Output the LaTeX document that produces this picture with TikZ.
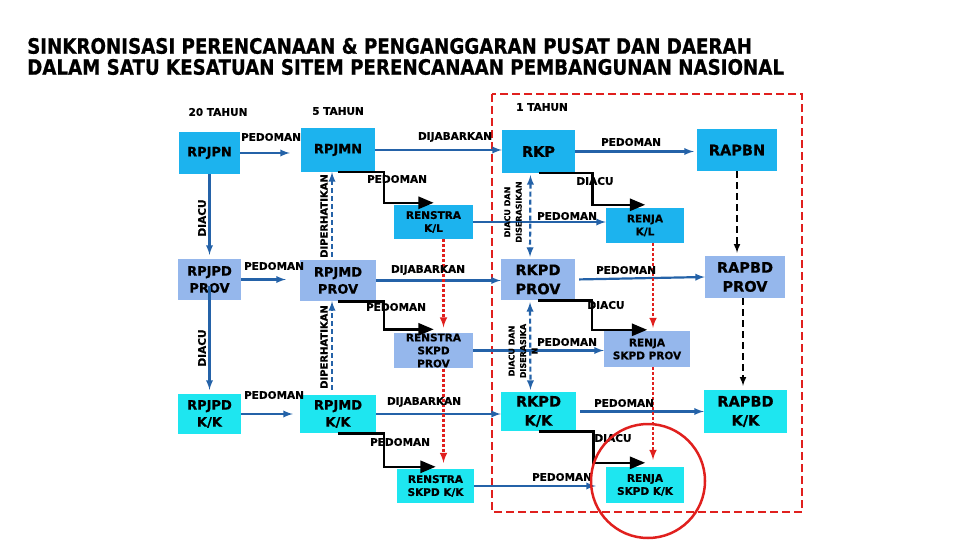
\documentclass[tikz,border=0pt]{standalone}
\usepackage{fontspec}
\setmainfont{DejaVu Sans}[BoldFeatures={FakeBold=0.6}]
\newfontfamily\titlefont[FakeStretch=0.86,BoldFeatures={FakeBold=0.6}]{DejaVu Sans}
\usetikzlibrary{arrows,positioning}
\definecolor{nasblue}{HTML}{1CB3EE}
\definecolor{provblue}{HTML}{95B7EC}
\definecolor{kkcyan}{HTML}{1EE6F0}
\definecolor{arrblue}{HTML}{2462A8}
\definecolor{redline}{HTML}{E0201E}
\tikzset{font=\bfseries}
\tikzset{box/.style={rectangle,inner sep=1pt,align=center,text=black}}
\tikzset{nas/.style={box,fill=nasblue}}
\tikzset{prov/.style={box,fill=provblue}}
\tikzset{kk/.style={box,fill=kkcyan}}
\tikzset{bigtxt/.style={font=\bfseries\fontsize{13}{17}\selectfont}}
\tikzset{hugetxt/.style={font=\bfseries\fontsize{14.5}{19}\selectfont}}
\tikzset{smalltxt/.style={font=\bfseries\fontsize{10.5}{13}\selectfont}}
\tikzset{lbl/.style={font=\bfseries\fontsize{10.5}{12}\selectfont,inner sep=0pt}}
\tikzset{tinylbl/.style={font=\bfseries\fontsize{8}{11.5}\selectfont,inner sep=0pt,align=center}}
\tikzset{flow/.style={arrblue,line width=2.2pt,-latex}}
\tikzset{flowdash/.style={flow,dash pattern=on 5pt off 3pt}}
\tikzset{elbow/.style={black,line width=2.6pt,-triangle 45}}
\tikzset{reddot/.style={redline,line width=2.4pt,dash pattern=on 3pt off 2pt,-latex}}
\tikzset{blackdash/.style={black,line width=2pt,dash pattern=on 7pt off 4pt,-latex}}

\begin{document}
\begin{tikzpicture}[x=1pt,y=-1pt]
\useasboundingbox (0,0) rectangle (960,540);
% title
\node[anchor=west,inner sep=0pt,font=\titlefont\bfseries\fontsize{21.2}{24}\selectfont] (title1) at (27,46)
 {SINKRONISASI PERENCANAAN \& PENGANGGARAN PUSAT DAN DAERAH};
\node[anchor=west,inner sep=0pt,font=\titlefont\bfseries\fontsize{21.2}{24}\selectfont] (title2) at (27,67)
 {DALAM SATU KESATUAN SITEM PERENCANAAN PEMBANGUNAN NASIONAL};
% periods
\node[lbl] (th20) at (218,112) {20 TAHUN};
\node[lbl] (th5) at (338,111) {5 TAHUN};
\node[lbl] (th1) at (542,107) {1 TAHUN};
% red frame
\draw[redline,line width=2.6pt,dash pattern=on 8pt off 4pt] (492,94) rectangle (802,512);
% national level
\node[nas,bigtxt,minimum width=61,minimum height=42] (rpjpn) at (209.5,153) {RPJPN};
\node[nas,bigtxt,minimum width=74,minimum height=44] (rpjmn) at (338,150) {RPJMN};
\node[nas,hugetxt,minimum width=73,minimum height=43] (rkp) at (538.5,151.5) {RKP};
\node[nas,hugetxt,minimum width=80,minimum height=42] (rapbn) at (737,150) {RAPBN};
\node[nas,smalltxt,minimum width=79,minimum height=34] (renstrakl) at (433.5,222) {RENSTRA\\K/L};
\node[nas,smalltxt,minimum width=78,minimum height=35] (renjakl) at (645,225.5) {RENJA\\K/L};
% province level
\node[prov,bigtxt,minimum width=63,minimum height=41] (rpjpdprov) at (209.5,279.5) {RPJPD\\PROV};
\node[prov,bigtxt,minimum width=76,minimum height=41] (rpjmdprov) at (338,280.5) {RPJMD\\PROV};
\node[prov,hugetxt,minimum width=74,minimum height=41] (rkpdprov) at (538,279.5) {RKPD\\PROV};
\node[prov,hugetxt,minimum width=80,minimum height=42] (rapbdprov) at (745,277) {RAPBD\\PROV};
\node[prov,smalltxt,minimum width=79,minimum height=35] (renstraprov) at (433.5,350.5) {RENSTRA\\SKPD\\PROV};
\node[prov,smalltxt,minimum width=86,minimum height=36] (renjaprov) at (647,349) {RENJA\\SKPD PROV};
% regency / city level
\node[kk,bigtxt,minimum width=63,minimum height=40] (rpjpdkk) at (209.5,414) {RPJPD\\K/K};
\node[kk,bigtxt,minimum width=76,minimum height=38] (rpjmdkk) at (338,414) {RPJMD\\K/K};
\node[kk,hugetxt,minimum width=75,minimum height=39] (rkpdkk) at (538.5,411.5) {RKPD\\K/K};
\node[kk,hugetxt,minimum width=83,minimum height=43] (rapbdkk) at (745.5,411.5) {RAPBD\\K/K};
\node[kk,smalltxt,minimum width=77,minimum height=34] (renstrakk) at (435.5,486) {RENSTRA\\SKPD K/K};
\node[kk,smalltxt,minimum width=78,minimum height=36] (renjakk) at (645,485) {RENJA\\SKPD K/K};
% blue flows
\draw[flow,shorten >=11pt] (rpjpn.east) -- (rpjpn.east -| rpjmn.west);
\draw[flow,shorten >=14pt] (rpjpdprov.east) -- (rpjpdprov.east -| rpjmdprov.west);
\draw[flow,shorten >=7pt] (rpjpdkk.east) -- (rpjpdkk.east -| rpjmdkk.west);
\draw[flow,shorten >=4pt] (rpjpn.south) -- (rpjpdprov.north);
\draw[flow,shorten <=6pt,shorten >=4pt] (rpjpdprov.center) -- (rpjpdkk.north);
\draw[flow] (rpjmn.east) -- (rpjmn.east -| rkp.west);
\draw[flow] (rpjmdprov.east) -- (rpjmdprov.east -| rkpdprov.west);
\draw[flow] (rpjmdkk.east) -- (rpjmdkk.east -| rkpdkk.west);
\draw[flow,shorten >=3pt] (rkp.east) -- (rkp.east -| rapbn.west);
\draw[flow] (renstrakl.east) -- (renstrakl.east -| renjakl.west);
\draw[flow,shorten <=4pt] (rkpdprov.east) -- (rapbdprov.west);
\draw[flow] (renstraprov.east) -- (renstraprov.east -| renjaprov.west);
\draw[flow,shorten <=4pt] (rkpdkk.east) -- (rapbdkk.west);
\draw[flow,shorten >=10pt] (renstrakk.east) -- (renstrakk.east -| renjakk.west);
\draw[flowdash,shorten <=3pt] ([xshift=-6pt]rpjmdprov.north) -- ([xshift=-6pt]rpjmn.south);
\draw[flowdash,shorten <=5pt] ([xshift=-6pt]rpjmdkk.north) -- ([xshift=-6pt]rpjmdprov.south);
\draw[flowdash,latex-latex,shorten <=2pt,shorten >=2pt] ([xshift=-8pt]rkp.south) -- ([xshift=-8pt]rkpdprov.north);
\draw[flowdash,latex-latex,shorten <=2pt,shorten >=2pt] ([xshift=-8pt]rkpdprov.south) -- ([xshift=-8pt]rkpdkk.north);
% black elbows
\draw[elbow] (rpjmn.south) -- ++(46,0) |- ([yshift=2pt]renstrakl.north);
\draw[elbow] (rpjmdprov.south) -- ++(46,0) |- ([yshift=3pt]renstraprov.north);
\draw[elbow] (rpjmdkk.south) -- ++(46,0) |- ([yshift=2pt]renstrakk.north);
\draw[elbow] (rkp.south) -- ++(54,0) |- ([yshift=3pt]renjakl.north);
\draw[elbow] (rkpdprov.south) -- ++(54,0) |- ([yshift=1pt]renjaprov.north);
\draw[elbow] (rkpdkk.south) -- ++(55,0) |- ([yshift=4pt]renjakk.north);
% red and black dashed links
\draw[reddot,shorten >=5pt] ([xshift=10pt]renstrakl.south) -- ([xshift=10pt]renstrakl.south |- renstraprov.north);
\draw[reddot,shorten >=6pt] ([xshift=10pt]renstraprov.south) -- ([xshift=10pt]renstraprov.south |- renstrakk.north);
\draw[reddot,shorten >=3pt] ([xshift=8pt]renjakl.south) -- ([xshift=8pt]renjakl.south |- renjaprov.north);
\draw[reddot,shorten >=7pt] ([xshift=6pt]renjaprov.south) -- ([xshift=6pt]renjaprov.south |- renjakk.north);
\draw[blackdash,shorten >=3pt] (rapbn.south) -- (rapbn.south |- rapbdprov.north);
\draw[blackdash,shorten >=4pt] ([xshift=-2pt]rapbdprov.south) -- ([xshift=-2pt]rapbdprov.south |- rapbdkk.north);
% labels
\node[lbl] (ped1) at (271,137) {PEDOMAN};
\node[lbl] (ped2) at (274,266) {PEDOMAN};
\node[lbl] (ped3) at (274,395) {PEDOMAN};
\node[lbl,rotate=90] (diacu1) at (202,218) {DIACU};
\node[lbl,rotate=90] (diacu2) at (202,348) {DIACU};
\node[lbl,rotate=90,font=\bfseries\fontsize{10}{12}\selectfont] (diper1) at (324,216) {DIPERHATIKAN};
\node[lbl,rotate=90,font=\bfseries\fontsize{10}{12}\selectfont] (diper2) at (324,347) {DIPERHATIKAN};
\node[lbl] (ped4) at (397,179) {PEDOMAN};
\node[lbl] (ped5) at (396,307) {PEDOMAN};
\node[lbl] (ped6) at (400,442) {PEDOMAN};
\node[lbl] (jab1) at (455,137) {DIJABARKAN};
\node[lbl] (jab2) at (428,270) {DIJABARKAN};
\node[lbl] (jab3) at (424,402) {DIJABARKAN};
\node[tinylbl,rotate=90] (seras1) at (513,212) {DIACU DAN\\DISERASIKAN};
\node[tinylbl,rotate=90] (seras2) at (523,351) {DIACU DAN\\DISERASIKA\\N};
\node[lbl] (ped7) at (631,142) {PEDOMAN};
\node[lbl] (diacu3) at (595,181) {DIACU};
\node[lbl] (ped8) at (567,216) {PEDOMAN};
\node[lbl] (ped9) at (626,270) {PEDOMAN};
\node[lbl] (diacu4) at (606,305) {DIACU};
\node[lbl] (ped10) at (567,342) {PEDOMAN};
\node[lbl] (ped11) at (624,403) {PEDOMAN};
\node[lbl] (diacu5) at (613,438) {DIACU};
\node[lbl] (ped12) at (562,477) {PEDOMAN};
% highlight
\draw[redline,line width=2.5pt] (648,481) circle (57);
\end{tikzpicture}
\end{document}
